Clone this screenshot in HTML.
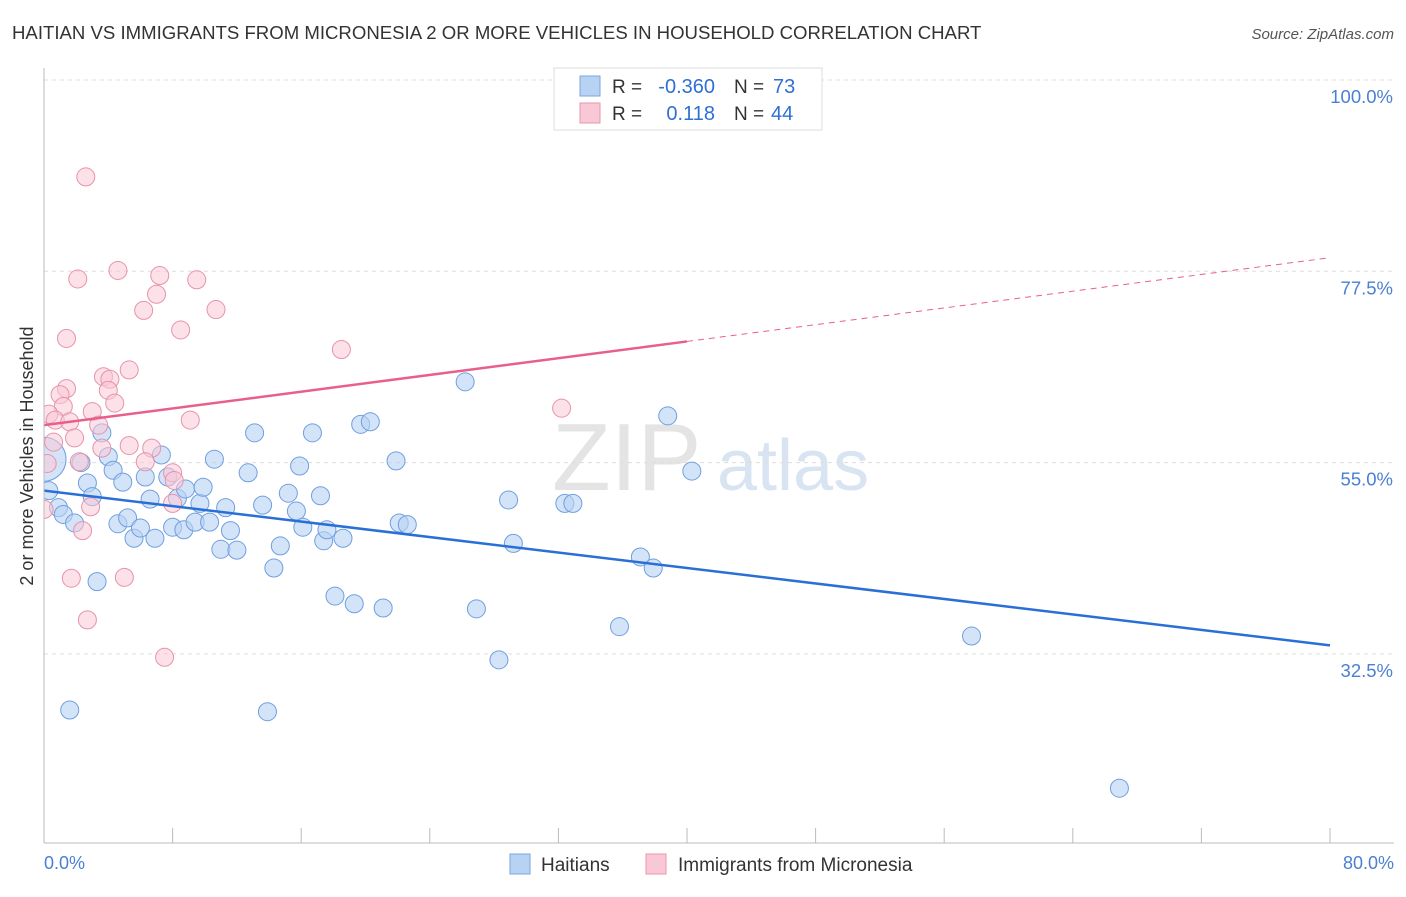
<!DOCTYPE html>
<html><head><meta charset="utf-8"><style>
body{margin:0;background:#fff;font-family:"Liberation Sans",sans-serif}
svg text{font-family:"Liberation Sans",sans-serif}
</style></head><body>
<svg id="chart" width="1406" height="892" xmlns="http://www.w3.org/2000/svg">
<defs><clipPath id="plotclip"><rect x="44" y="60" width="1360" height="783"/></clipPath></defs>
<text x="12" y="39" font-size="18.6" fill="#333">HAITIAN VS IMMIGRANTS FROM MICRONESIA 2 OR MORE VEHICLES IN HOUSEHOLD CORRELATION CHART</text>
<text x="1394" y="39" font-size="15" fill="#555" text-anchor="end" font-style="italic">Source: ZipAtlas.com</text>
<text x="552" y="490" font-size="96" fill="#e4e4e4" font-family="Liberation Serif">ZIP</text>
<text x="717" y="490" font-size="72" fill="#d8e4f2">atlas</text>
<g id="grid"></g>
<g id="marks" clip-path="url(#plotclip)"></g>
<line x1="44" y1="68" x2="44" y2="843" stroke="#bbb"/>
<line x1="44" y1="843" x2="1394" y2="843" stroke="#bbb"/>
<text transform="translate(33,456) rotate(-90)" font-size="18" fill="#333" text-anchor="middle">2 or more Vehicles in Household</text>
<text x="44" y="869" font-size="18" fill="#4a7fd4">0.0%</text>
<text x="1394" y="869" font-size="18" fill="#4a7fd4" text-anchor="end">80.0%</text>
<g>
<rect x="554" y="68" width="268" height="62" fill="#fff" stroke="#ddd"/>
<rect x="580" y="76" width="20" height="20" fill="#b8d2f4" stroke="#7aa6e0"/>
<rect x="580" y="103" width="20" height="20" fill="#f9c8d6" stroke="#e896ae"/>
<text x="612" y="93" font-size="19" fill="#333">R =</text>
<text x="715" y="93" font-size="20" fill="#2f6fd6" text-anchor="end">-0.360</text>
<text x="734" y="93" font-size="19" fill="#333">N =</text>
<text x="773" y="93" font-size="20" fill="#2f6fd6">73</text>
<text x="612" y="120" font-size="19" fill="#333">R =</text>
<text x="715" y="120" font-size="20" fill="#2f6fd6" text-anchor="end">0.118</text>
<text x="734" y="120" font-size="19" fill="#333">N =</text>
<text x="771" y="120" font-size="20" fill="#2f6fd6">44</text>
</g>
<g>
<rect x="510" y="854" width="20" height="20" fill="#b8d2f4" stroke="#7aa6e0"/>
<text x="541" y="871" font-size="19" fill="#333">Haitians</text>
<rect x="646" y="854" width="20" height="20" fill="#f9c8d6" stroke="#e896ae"/>
<text x="678" y="871" font-size="19" fill="#333">Immigrants from Micronesia</text>
</g>
</svg>
<script>
const yTicks=[32.5,55.0,77.5,100.0];
const xTicks=[0,8,16,24,32,40,48,56,64,72,80];
const haitianX=[0.3,0.9,1.2,1.9,2.3,2.7,3.0,3.3,3.6,4.0,4.3,4.6,4.9,5.2,5.6,6.0,6.3,6.6,6.9,7.3,7.7,8.0,8.3,8.7,8.8,9.4,9.7,9.9,10.3,10.6,11.0,11.3,11.6,12.0,12.7,13.1,13.6,13.9,14.3,14.7,15.2,15.7,15.9,16.1,16.7,17.2,17.4,17.6,18.1,18.6,19.3,19.7,20.3,21.1,21.9,22.1,22.6,26.2,26.9,28.3,28.9,29.2,32.4,32.9,35.8,37.1,37.9,38.8,40.3,57.7,66.9,1.6,0.0];
const haitianY=[51.7,49.7,48.9,47.9,55.0,52.6,51.0,41.0,58.5,55.7,54.1,47.8,52.7,48.5,46.1,47.3,53.3,50.7,46.1,55.9,53.3,47.4,50.8,47.1,51.9,48.0,50.2,52.1,48.0,55.4,44.8,49.7,47.0,44.7,53.8,58.5,50.0,25.7,42.6,45.2,51.4,49.3,54.6,47.4,58.5,51.1,45.8,47.1,39.3,46.1,38.4,59.5,59.8,37.9,55.2,47.9,47.7,64.5,37.8,31.8,50.6,45.5,50.2,50.2,35.7,43.9,42.6,60.5,54.0,34.6,16.7,25.9,55.4];
const micronesiaX=[2.6,4.6,2.1,7.2,9.5,7.0,6.2,10.7,8.5,1.4,18.5,5.3,3.7,4.1,1.4,4.0,1.0,4.4,1.2,3.0,0.3,0.7,1.6,3.4,9.1,32.2,1.9,0.6,5.3,6.7,3.6,6.3,2.2,8.0,8.1,2.9,8.0,2.4,0.0,1.7,5.0,2.7,7.5,0.2];
const micronesiaY=[88.6,77.6,76.6,77.0,76.5,74.8,72.9,73.0,70.6,69.6,68.3,65.9,65.1,64.8,63.7,63.5,63.0,62.0,61.6,61.0,60.7,60.0,59.8,59.4,60.0,61.4,57.9,57.4,57.0,56.7,56.7,55.1,55.1,53.8,52.9,49.8,50.2,47.0,49.5,41.4,41.5,36.5,32.1,54.9];
const haitianFit=[51.7,33.5];
const micronesiaFit=[59.4,79.1];
const X=v=>44+v*16.075, Y=v=>80+(100-v)*8.502;
const NS='http://www.w3.org/2000/svg';
const grid=document.getElementById('grid'), marks=document.getElementById('marks');
function mk(tag,attrs,parent){const e=document.createElementNS(NS,tag);for(const k in attrs)e.setAttribute(k,attrs[k]);parent.appendChild(e);return e;}
yTicks.forEach(t=>{
 const l=mk('line',{x1:44,x2:1394,y1:Y(t),y2:Y(t),stroke:'#ddd','stroke-dasharray':'4,4'},grid);
 
 
 const tx=mk('text',{x:1393,y:Y(t)+23,'font-size':18.5,fill:'#4a7fd4','text-anchor':'end'},grid);
 tx.textContent=t.toFixed(1)+'%';
 
 
});
xTicks.forEach(t=>{
 const l=mk('line',{x1:X(t),x2:X(t),y1:828,y2:843,stroke:'#bbb'},grid);
 
 
});
haitianX.forEach((x,i)=>{
 const big=(i===haitianX.length-1);
 const c=mk('circle',{cx:X(x),cy:Y(haitianY[i]),r:big?22:9,fill:'#b8d2f4','fill-opacity':0.6,stroke:'#6f9fdf','stroke-width':1},marks);
 
 
});
micronesiaX.forEach((x,i)=>{
 const c=mk('circle',{cx:X(x),cy:Y(micronesiaY[i]),r:9,fill:'#f9c8d6','fill-opacity':0.55,stroke:'#e892ab','stroke-width':1},marks);
 
 
});
const hl=mk('line',{x1:X(0),y1:Y(haitianFit[0]),x2:X(80),y2:Y(haitianFit[1]),stroke:'#2a6fd6','stroke-width':2.5},marks);


const mid=40, mv=micronesiaFit[0]+(micronesiaFit[1]-micronesiaFit[0])*mid/80;
const ml=mk('line',{x1:X(0),y1:Y(micronesiaFit[0]),x2:X(mid),y2:Y(mv),stroke:'#e8608a','stroke-width':2.5},marks);


const md=mk('line',{x1:X(mid),y1:Y(mv),x2:X(80),y2:Y(micronesiaFit[1]),stroke:'#e8608a','stroke-width':1,'stroke-dasharray':'6,5'},marks);


</script>
</body></html>
